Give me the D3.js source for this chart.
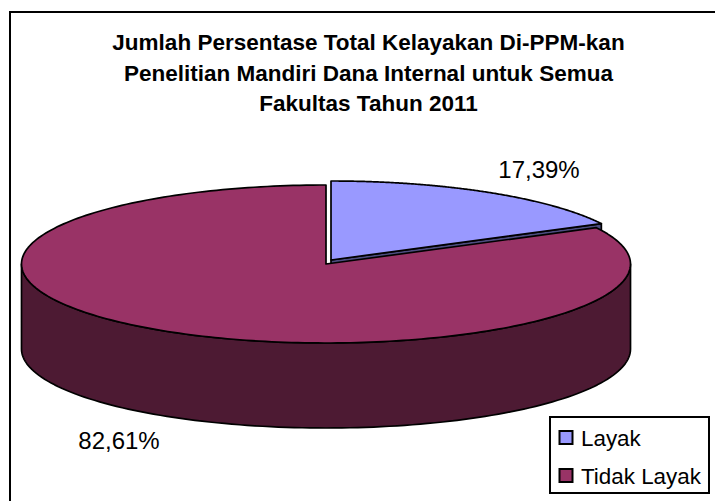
<!DOCTYPE html>
<html><head><meta charset="utf-8">
<script src="https://cdnjs.cloudflare.com/ajax/libs/d3/7.8.5/d3.min.js"></script>
<style>html,body{margin:0;padding:0;background:#fff}svg{display:block}text{font-family:"Liberation Sans",Arial,sans-serif;fill:#000}</style>
</head><body><script>
const titleLines = ["Jumlah Persentase Total Kelayakan Di-PPM-kan","Penelitian Mandiri Dana Internal untuk Semua","Fakultas Tahun 2011"];
const categories = ["Layak","Tidak Layak"];
const values = [17.39,82.61];
const labels = ["17,39%","82,61%"];
const topColors = ["#9999FF","#993366"];
const sideColors = ["#4D4D80","#4D1A33"];

const W=715,H=501, rx=304.5, ry=79, depth=85;
const svg=d3.select("body").append("svg").attr("width",W).attr("height",H);
svg.append("rect").attr("x",10).attr("y",12).attr("width",730).attr("height",520).attr("fill","#fff").attr("stroke","#000").attr("stroke-width",2);

svg.append("g").selectAll("text").data(titleLines).join("text")
 .attr("x",368.5).attr("y",(d,i)=>50+i*30.5).attr("text-anchor","middle")
 .attr("font-size",22.5).attr("font-weight","bold").text(d=>d);

const arcs=d3.pie().sort(null)(values);
const offsets=[[331,260],[326,264]];
const sx=d3.scaleLinear().domain([0,1]).range([0,rx]);
const sy=d3.scaleLinear().domain([0,1]).range([0,ry]);
const px=(a,o)=>o[0]+sx(Math.sin(a));
const py=(a,o)=>o[1]-sy(Math.cos(a));
function wallPath(a0,a1,o){
  const n=120, top=[],bot=[];
  for(let i=0;i<=n;i++){const a=a0+(a1-a0)*i/n;top.push([px(a,o),py(a,o)]);bot.push([px(a,o),py(a,o)+depth]);}
  return d3.line()(top.concat(bot.reverse()))+"Z";
}
function topPath(d,o){
  const n=240,p=[[o[0],o[1]]];
  for(let i=0;i<=n;i++){const a=d.startAngle+(d.endAngle-d.startAngle)*i/n;p.push([px(a,o),py(a,o)]);}
  return d3.line()(p)+"Z";
}
const stroke={stroke:"#000","stroke-width":1.7,"stroke-linejoin":"round"};
const apply=(s)=>{Object.entries(stroke).forEach(([k,v])=>s.attr(k,v));return s;};

const b=arcs[0], oB=offsets[0];
apply(svg.append("path").attr("fill",sideColors[0]).attr("d",
  d3.line()([[oB[0],oB[1]],[px(b.endAngle,oB),py(b.endAngle,oB)],[px(b.endAngle,oB),py(b.endAngle,oB)+depth],[oB[0],oB[1]+depth]])+"Z"));
apply(svg.append("path").attr("fill",topColors[0]).attr("d",topPath(b,oB)));

const r=arcs[1], oR=offsets[1];
apply(svg.append("path").attr("fill",sideColors[1]).attr("d",wallPath(Math.PI/2,Math.PI*1.5,oR)));
apply(svg.append("path").attr("fill",topColors[1]).attr("d",topPath(r,oR)));

svg.append("text").attr("x",539).attr("y",178).attr("text-anchor","middle").attr("font-size",24).text(labels[0]);
svg.append("text").attr("x",119).attr("y",449).attr("text-anchor","middle").attr("font-size",24).text(labels[1]);

svg.append("rect").attr("x",550).attr("y",417).attr("width",159).attr("height",76).attr("fill","#fff").attr("stroke","#000").attr("stroke-width",2);
const lg=svg.append("g").selectAll("g").data(categories).join("g").attr("transform",(d,i)=>`translate(0,${i*38})`);
lg.append("rect").attr("x",559.5).attr("y",431).attr("width",13).attr("height",13).attr("fill",(d,i)=>topColors[i]).attr("stroke","#000").attr("stroke-width",2);
lg.append("text").attr("x",581).attr("y",446).attr("font-size",22.4).text(d=>d);
</script></body></html>
